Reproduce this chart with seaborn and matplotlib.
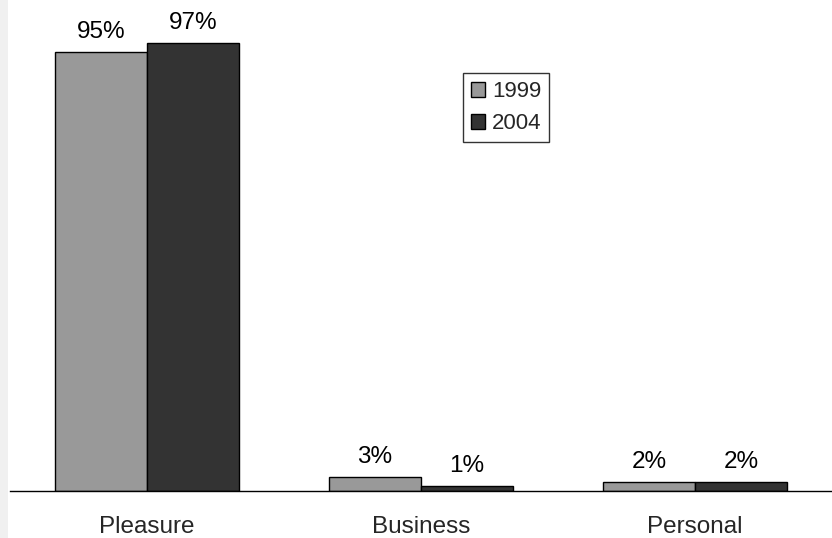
import matplotlib
matplotlib.use("Agg")
import matplotlib.pyplot as plt
import seaborn as sns
import pandas as pd

# Trip purpose shares by survey year
categories = ["Pleasure", "Business", "Personal"]
years = ["1999", "2004"]
share_1999 = [95, 3, 2]
share_2004 = [97, 1, 2]

df = pd.DataFrame({
    "purpose": categories * 2,
    "year": [years[0]] * 3 + [years[1]] * 3,
    "share": share_1999 + share_2004,
})

sns.set_theme(style="white")
plt.rcParams["font.family"] = ["Liberation Sans", "DejaVu Sans"]

W, H = 832, 538
fig = plt.figure(figsize=(W / 100, H / 100), dpi=100)
fig.patch.set_facecolor("white")

# light strip along the left edge
fig.add_artist(plt.Rectangle((0, 0), 8 / W, 1, transform=fig.transFigure,
                             facecolor="#f0f0f0", edgecolor="none"))

ax = fig.add_axes([10 / W, 47 / H, 822 / W, 491 / H])
sns.barplot(data=df, x="purpose", y="share", hue="year", order=categories,
            hue_order=years, palette=["#999999", "#333333"], width=0.67,
            edgecolor="black", linewidth=1.0, saturation=1, ax=ax)

ax.set_ylim(0, 106.3)
ax.set_xlim(-0.5, 2.5)
ax.set_xlabel("")
ax.set_ylabel("")
ax.set_yticks([])
ax.tick_params(axis="x", length=0, pad=18, labelsize=17.5)
for side in ["top", "right", "left"]:
    ax.spines[side].set_visible(False)
ax.spines["bottom"].set_color("black")
ax.spines["bottom"].set_linewidth(1.0)
ax.set_facecolor("white")

for cont in ax.containers:
    ax.bar_label(cont, fmt="%g%%", padding=6.5, fontsize=17.5, color="black")

leg = ax.legend(loc="upper left", bbox_to_anchor=(0.551, 0.851), frameon=True,
                fancybox=False, shadow=False, fontsize=16, handlelength=0.65,
                handleheight=0.65, handletextpad=0.3, borderpad=0.35,
                labelspacing=0.5, borderaxespad=0)
leg.get_frame().set_edgecolor("black")
leg.get_frame().set_linewidth(1.0)

fig.savefig("out.png", dpi=100)
